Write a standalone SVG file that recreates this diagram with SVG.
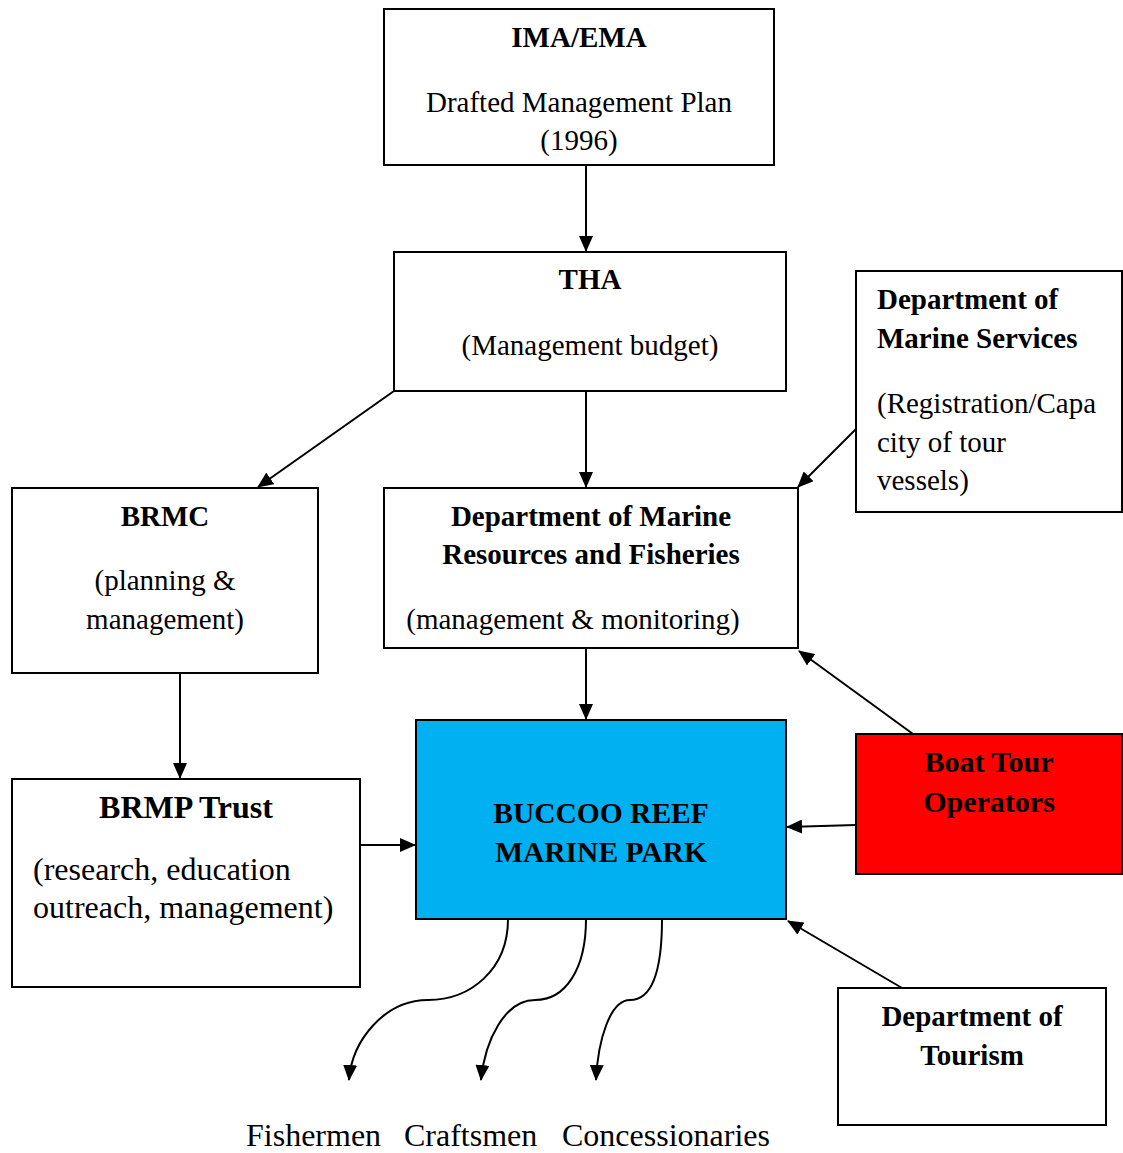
<svg xmlns="http://www.w3.org/2000/svg" width="1123" height="1153" viewBox="0 0 1123 1153">
<defs>
<style>
.box{fill:#fff;stroke:#000;stroke-width:2}
.t{font-family:"Liberation Serif","Times New Roman",serif;font-size:29px;fill:#000}
.lg{font-size:32px}
.b{font-weight:bold}
.c{text-anchor:middle}
.ln{fill:none;stroke:#000;stroke-width:2}
</style>
<marker id="ah" markerUnits="userSpaceOnUse" markerWidth="16" markerHeight="14" refX="15" refY="7" orient="auto">
<path d="M0,0 L16,7 L0,14 Z" fill="#000"/>
</marker>
</defs>
<rect width="1123" height="1153" fill="#fff"/>
<g id="connectors">
<line class="ln" x1="586" y1="165" x2="586" y2="251" marker-end="url(#ah)"/>
<line class="ln" x1="586" y1="391" x2="586" y2="487" marker-end="url(#ah)"/>
<line class="ln" x1="394" y1="391" x2="258" y2="487" marker-end="url(#ah)"/>
<line class="ln" x1="856" y1="429" x2="798" y2="487" marker-end="url(#ah)"/>
<line class="ln" x1="586" y1="648" x2="586" y2="719" marker-end="url(#ah)"/>
<line class="ln" x1="180" y1="673" x2="180" y2="778" marker-end="url(#ah)"/>
<line class="ln" x1="360" y1="845" x2="415" y2="845" marker-end="url(#ah)"/>
<line class="ln" x1="856" y1="825" x2="787" y2="827" marker-end="url(#ah)"/>
<line class="ln" x1="913" y1="734" x2="799" y2="651" marker-end="url(#ah)"/>
<line class="ln" x1="902" y1="988" x2="788" y2="921" marker-end="url(#ah)"/>
<path class="ln" d="M508,919 C508,970 470,1000 428,1000 C385,1000 352,1040 349,1080" marker-end="url(#ah)"/>
<path class="ln" d="M586,919 C586,970 565,1000 535,1000 C505,1000 485,1040 481,1080" marker-end="url(#ah)"/>
<path class="ln" d="M662,919 C662,975 650,1000 630,1000 C610,1000 598,1040 596,1080" marker-end="url(#ah)"/>
</g>
<g id="ima">
<rect class="box" x="384" y="9" width="390" height="156"/>
<text class="t b c" x="579" y="47">IMA/EMA</text>
<text class="t c" x="579" y="112">Drafted Management Plan</text>
<text class="t c" x="579" y="150">(1996)</text>
</g>
<g id="tha">
<rect class="box" x="394" y="252" width="392" height="139"/>
<text class="t b c" x="590" y="289">THA</text>
<text class="t c" x="590" y="355">(Management budget)</text>
</g>
<g id="dms">
<rect class="box" x="856" y="271" width="266" height="241"/>
<text class="t b" x="877" y="309">Department of</text>
<text class="t b" x="877" y="348">Marine Services</text>
<text class="t" x="877" y="413">(Registration/Capa</text>
<text class="t" x="877" y="452">city of tour</text>
<text class="t" x="877" y="490">vessels)</text>
</g>
<g id="brmc">
<rect class="box" x="12" y="488" width="306" height="185"/>
<text class="t b c" x="165" y="526">BRMC</text>
<text class="t c" x="165" y="590">(planning &amp;</text>
<text class="t c" x="165" y="629">management)</text>
</g>
<g id="dmrf">
<rect class="box" x="384" y="488" width="414" height="160"/>
<text class="t b c" x="591" y="526">Department of Marine</text>
<text class="t b c" x="591" y="564">Resources and Fisheries</text>
<text class="t c" x="573" y="629">(management &amp; monitoring)</text>
</g>
<g id="brmp">
<rect class="box" x="12" y="779" width="348" height="208"/>
<text class="t lg b c" x="186" y="818">BRMP Trust</text>
<text class="t lg" x="33" y="880">(research, education</text>
<text class="t lg" x="33" y="918">outreach, management)</text>
</g>
<g id="buccoo">
<rect x="416" y="720" width="370" height="199" fill="#00B0F0" stroke="#000" stroke-width="2"/>
<text class="t b c" x="601" y="823" style="font-size:29.5px">BUCCOO REEF</text>
<text class="t b c" x="601" y="862" style="font-size:29.5px">MARINE PARK</text>
</g>
<g id="boat">
<rect x="856" y="734" width="266" height="140" fill="#FF0000" stroke="#000" stroke-width="2"/>
<text class="t b c" x="989" y="772" style="font-size:30px">Boat Tour</text>
<text class="t b c" x="989" y="812" style="font-size:30px">Operators</text>
</g>
<g id="tourism">
<rect class="box" x="838" y="988" width="268" height="137"/>
<text class="t b c" x="972" y="1026">Department of</text>
<text class="t b c" x="972" y="1065">Tourism</text>
</g>
<g id="labels">
<text class="t lg" x="246" y="1146">Fishermen</text>
<text class="t lg" x="404" y="1146">Craftsmen</text>
<text class="t lg" x="562" y="1146">Concessionaries</text>
</g>
</svg>
